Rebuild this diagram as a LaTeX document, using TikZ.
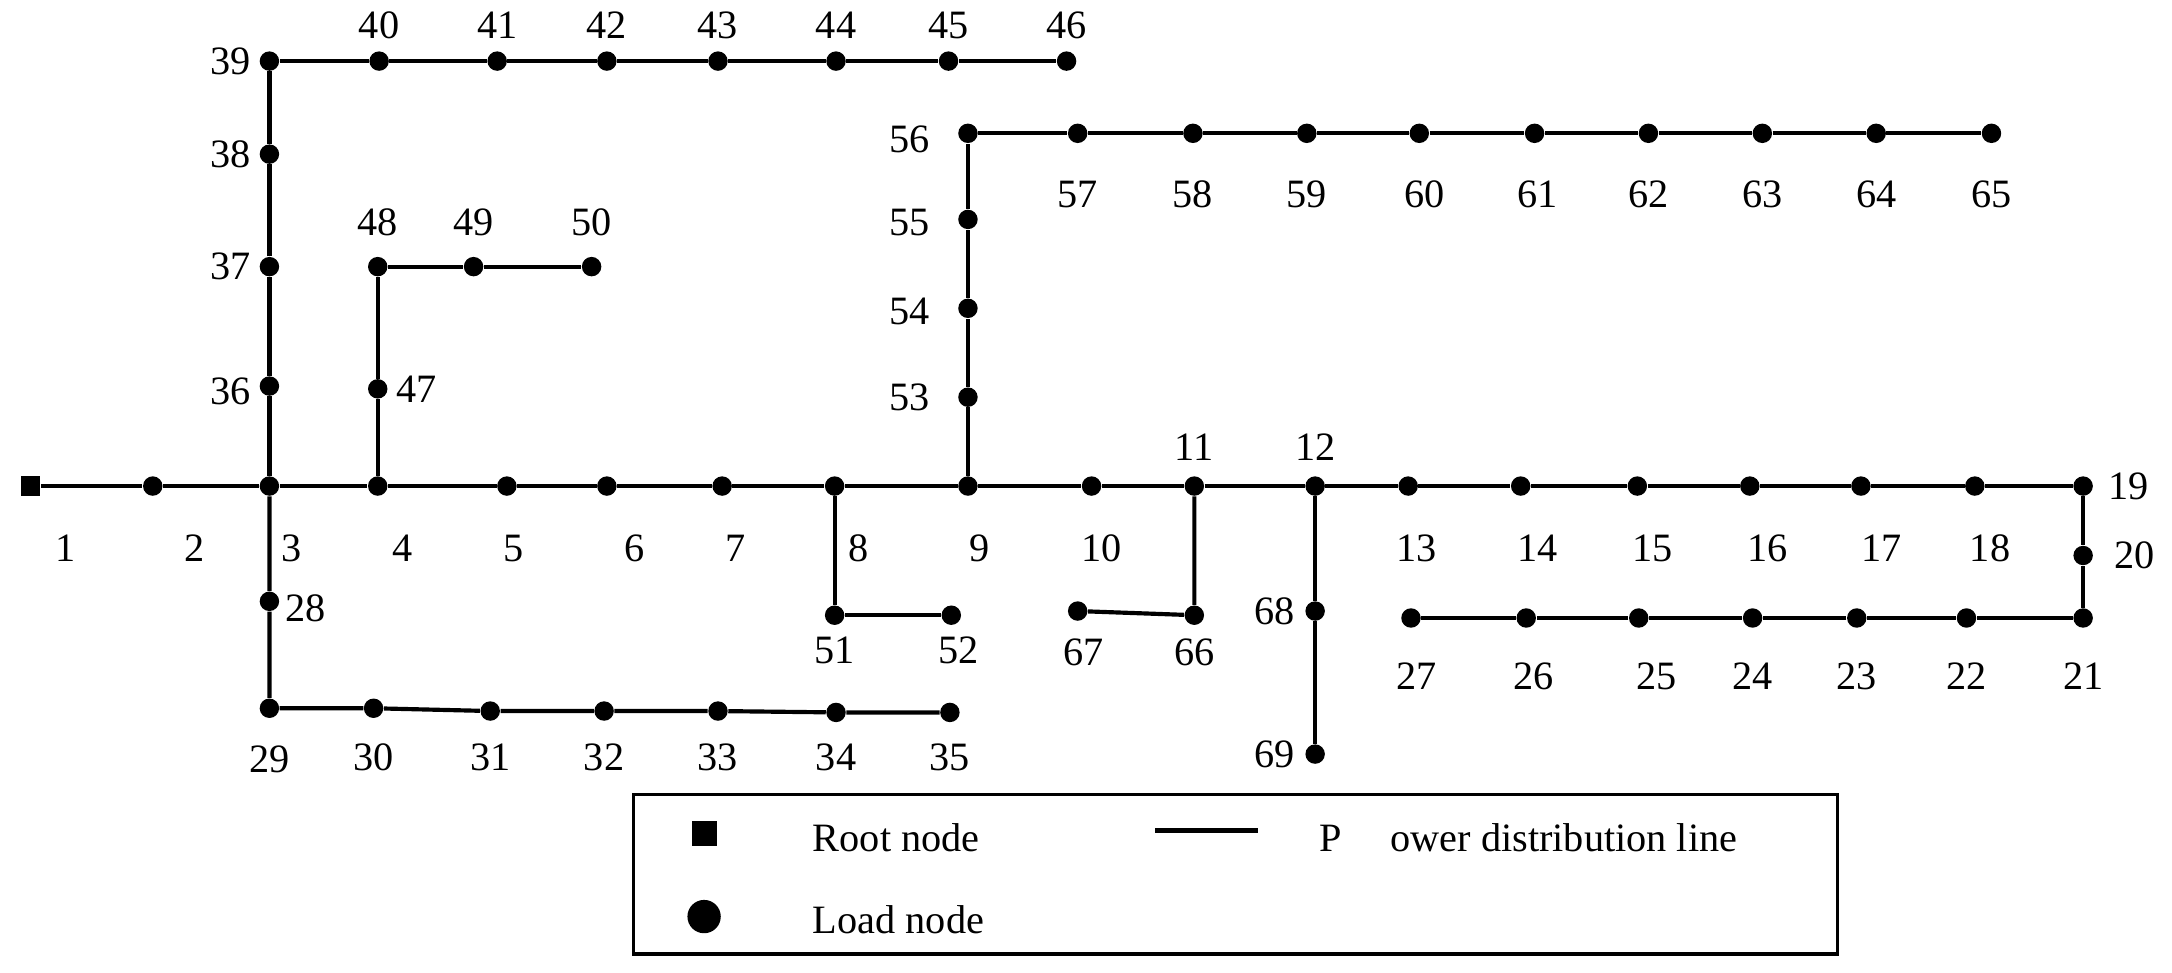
\documentclass[tikz,border=0pt]{standalone}
\usepackage{fontspec}
\setmainfont{Liberation Serif}
\begin{document}
\begin{tikzpicture}[x=0.5pt,y=-0.5pt,
  dot/.style={circle,fill=black,inner sep=0pt,minimum size=7pt},
  root/.style={rectangle,fill=black,inner sep=0pt,minimum size=7pt},
  lab/.style={font=\fontsize{14.5}{16}\selectfont,inner sep=0pt},
  ln/.style={line width=1.5pt}]
\useasboundingbox (0,0) rectangle (1564,700);
\node[root] (n1) at (22,350) {};
\foreach \i/\x/\y in {2/110/350,3/194/350,4/272/350,5/365/350,6/437/350,7/520/350,8/601/350,9/697/350,10/786/350,11/860/350,12/947/350,13/1014/350,14/1095/350,15/1179/350,16/1260/350,17/1340/350,18/1422/350,19/1500/350,20/1500/400,21/1500/445,22/1416/445,23/1337/445,24/1262/445,25/1180/445,26/1099/445,27/1016/445,28/194/433,29/194/510,30/269/510,31/353/512,32/435/512,33/517/512,34/602/513,35/684/513,36/194/278,37/194/192,38/194/111,39/194/44,40/273/44,41/358/44,42/437/44,43/517/44,44/602/44,45/683/44,46/768/44,47/272/280,48/272/192,49/341/192,50/426/192,51/601/443,52/685/443,53/697/286,54/697/222,55/697/158,56/697/96,57/776/96,58/859/96,59/941/96,60/1022/96,61/1105/96,62/1187/96,63/1269/96,64/1351/96,65/1434/96,66/860/443,67/776/440,68/947/440,69/947/543}
  \node[dot] (n\i) at (\x,\y) {};
\foreach \i/\x/\y in {1/47/395,2/140/395,3/210/395,4/290/395,5/370/395,6/457/395,7/530/395,8/618/395,9/705/395,10/793/395,11/860/322,12/947/322,13/1020/395,14/1107/395,15/1190/395,16/1273/395,17/1355/395,18/1433/395,19/1533/350,20/1537/400,21/1500/487,22/1416/487,23/1337/487,24/1262/487,25/1193/487,26/1104/487,27/1020/487,28/220/438,29/194/547,30/269/545,31/353/545,32/435/545,33/517/545,34/602/545,35/684/545,36/166/282,37/166/192,38/166/111,39/166/44,40/273/18,41/358/18,42/437/18,43/517/18,44/602/18,45/683/18,46/768/18,47/300/280,48/272/160,49/341/160,50/426/160,51/601/468,52/690/468,53/655/286,54/655/224,55/655/160,56/655/100,57/776/140,58/859/140,59/941/140,60/1026/140,61/1107/140,62/1187/140,63/1269/140,64/1351/140,65/1434/140,66/860/470,67/780/470,68/918/440,69/918/543}
  \node[lab] (l\i) at (\x,\y) {\i};
\draw[ln] (n1)--(n2)--(n3)--(n4)--(n5)--(n6)--(n7)--(n8)--(n9)--(n10)--(n11)--(n12)--(n13)--(n14)--(n15)--(n16)--(n17)--(n18)--(n19)--(n20)--(n21)--(n22)--(n23)--(n24)--(n25)--(n26)--(n27);
\draw[ln] (n3)--(n28)--(n29)--(n30)--(n31)--(n32)--(n33)--(n34)--(n35);
\draw[ln] (n3)--(n36)--(n37)--(n38)--(n39)--(n40)--(n41)--(n42)--(n43)--(n44)--(n45)--(n46);
\draw[ln] (n4)--(n47)--(n48)--(n49)--(n50);
\draw[ln] (n8)--(n51)--(n52);
\draw[ln] (n9)--(n53)--(n54)--(n55)--(n56)--(n57)--(n58)--(n59)--(n60)--(n61)--(n62)--(n63)--(n64)--(n65);
\draw[ln] (n11)--(n66)--(n67);
\draw[ln] (n12)--(n68)--(n69);
\draw[line width=1.2pt] (456,572) rectangle (1323,687);
\node[rectangle,fill=black,inner sep=0pt,minimum size=9pt] (lr) at (507,600) {};
\node[circle,fill=black,inner sep=0pt,minimum size=12pt] (ld) at (507,660) {};
\node[lab,anchor=west] (tr) at (585,603) {Root node};
\node[lab,anchor=west] (td) at (585,662) {Load node};
\coordinate (la) at (832,598); \coordinate (lb) at (906,598);
\draw[ln] (la)--(lb);
\node[lab,anchor=west] (tp) at (950,603) {P\hspace{1.2em}ower distribution line};
\end{tikzpicture}
\end{document}
